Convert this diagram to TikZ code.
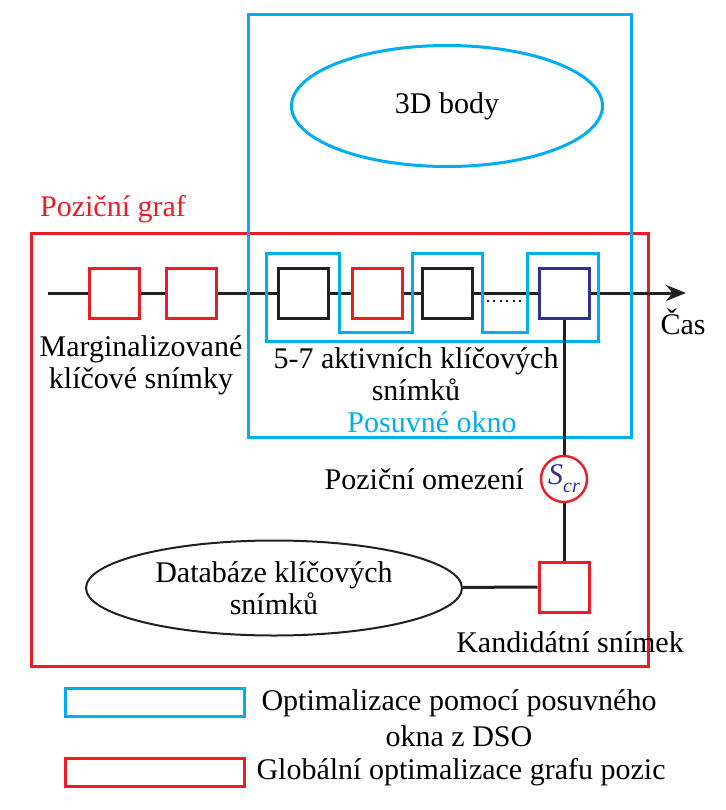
\documentclass[tikz,border=0pt]{standalone}
\usepackage{fontspec}
\setmainfont{Liberation Serif}
\usetikzlibrary{arrows.meta,shapes.geometric}
\definecolor{dsoblue}{RGB}{0,174,239}
\definecolor{pgred}{RGB}{237,28,36}
\definecolor{kfnavy}{RGB}{46,49,146}
\definecolor{kfblack}{RGB}{35,31,32}
\tikzset{
  kf/.style={draw=#1, fill=white, line width=1.5pt, minimum size=25pt, inner sep=0pt},
  lbl/.style={align=center, font=\rmfamily\fontsize{15}{16}\selectfont},
  lgbox/.style={draw=#1, line width=1.5pt, minimum width=89.5pt, minimum height=14pt, inner sep=0pt},
}
\begin{document}
\begin{tikzpicture}[x=0.5pt,y=-0.5pt,line width=1.5pt]
    \useasboundingbox (0,0) rectangle (726,810);

    % pose graph
    \draw[pgred] (31,233) rectangle (648,666);
    \node[lbl, text=pgred] (pg) at (113,209) {Poziční graf};

    % keyframes on the time line
    \node[kf=pgred] (m1) at (114.5,293) {};
    \node[kf=pgred] (m2) at (191.5,293) {};
    \node[kf=kfblack] (a1) at (303.5,293) {};
    \node[kf=pgred] (a2) at (377,293) {};
    \node[kf=kfblack] (a3) at (447.5,293) {};
    \node[kf=kfnavy] (a4) at (564,293) {};
    \coordinate (tstart) at (48,293);
    \coordinate (tend) at (686,293);
    \draw[kfblack] (tstart) -- (m1) -- (m2) -- (a1) -- (a2) -- (a3) -- (a4);
    \draw[kfblack, -{Stealth[length=10pt,width=8pt]}] (a4) -- (tend);
    \draw[kfblack, line width=1pt, dash pattern=on 1pt off 2.2pt] (487,301) -- (525,301);
    \node[lbl] (cas) at (683,322) {Čas};

    % sliding window
    \draw[dsoblue] (248,14) rectangle (631,437);
    \node[draw=dsoblue, ellipse, minimum width=155.5pt, minimum height=60.5pt, lbl] (pts) at (447,106) {3D body};
    \draw[dsoblue] (266,341) -- (266,253) -- (339,253) -- (339,332) -- (412,332) -- (412,253)
        -- (482,253) -- (482,332) -- (527,332) -- (527,253) -- (598,253) -- (598,341) -- cycle;

    \node[lbl] (marg) at (141,365) {Marginalizované\\klíčové snímky};
    \node[lbl] (act) at (416,374) {5-7 aktivních klíčových\\snímků};
    \node[lbl, text=dsoblue] (win) at (432,422) {Posuvné okno};

    % pose constraint and candidate
    \node[circle, draw=pgred, fill=white, line width=1.2pt, minimum size=23pt, inner sep=0pt, lbl, text=kfnavy] (scr) at (564,479)
        {\textit{S}\raisebox{-4pt}{\fontsize{10}{10}\selectfont\textit{cr}}};
    \node[lbl, anchor=east] (omez) at (532,479) {Poziční omezení};
    \node[kf=pgred] (cand) at (564,587) {};
    \node[lbl] (candl) at (570,642) {Kandidátní snímek};
    \node[draw=kfblack, ellipse, line width=1pt, minimum width=188pt, minimum height=47.5pt, lbl] (db) at (274,588) {Databáze klíčových\\snímků};
    \draw[kfblack] (a4) -- (scr) -- (cand);
    \draw[kfblack] (db) -- (cand);

    % legend
    \node[lgbox=dsoblue] (lgwin) at (155,702.5) {};
    \node[lgbox=pgred] (lgpg) at (155,772) {};
    \node[lbl] (lgwintxt) at (459,718) {Optimalizace pomocí posuvného\\[2pt]okna z DSO};
    \node[lbl] (lgpgtxt) at (461,772) {Globální optimalizace grafu pozic};

\end{tikzpicture}
\end{document}
